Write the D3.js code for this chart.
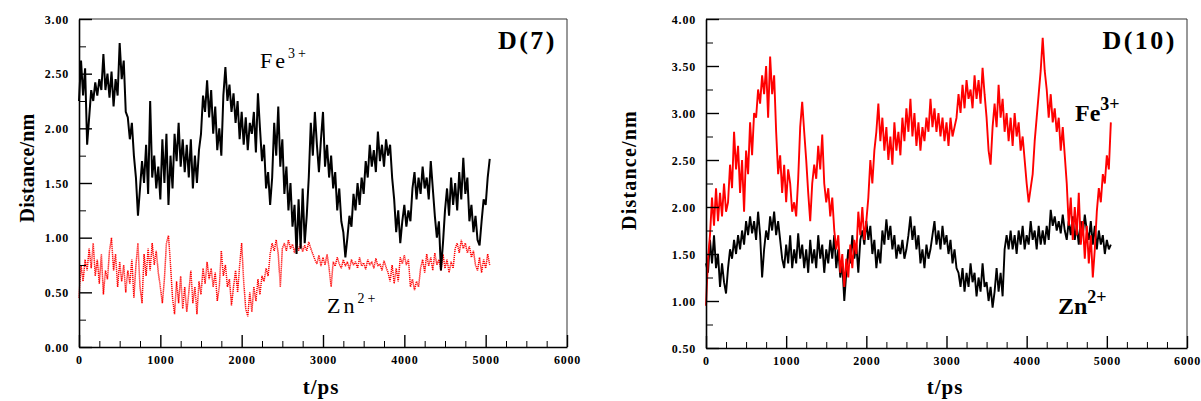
<!DOCTYPE html>
<html>
<head>
<meta charset="utf-8">
<script src="https://cdn.jsdelivr.net/npm/d3@7"></script>
<style>
  body { margin: 0; background: #fff; }
  svg text { font-family: "Liberation Serif", "DejaVu Serif", serif; font-weight: bold; fill: #000; }
  .tick text { font-size: 12px; letter-spacing: 0.8px; }
</style>
</head>
<body>
<svg id="svg" width="1201" height="401"></svg>
<script>
// sampling step of all traces (ps)
var timeStep = 25

var xTicks = [0, 1000, 2000, 3000, 4000, 5000, 6000]
var d7YTicks = [0, 0.5, 1, 1.5, 2, 2.5, 3]
var d10YTicks = [0.5, 1, 1.5, 2, 2.5, 3, 3.5, 4]

// D(7) Fe3+ distance (nm), one value every 25 ps
var d7Fe = [
  2.25, 2.62, 2.30, 2.55, 1.85, 2.10, 2.35, 2.25,
  2.42, 2.30, 2.45, 2.35, 2.68, 2.35, 2.50, 2.28,
  2.52, 2.20, 2.45, 2.30, 2.78, 2.45, 2.62, 2.15,
  2.10, 1.90, 2.05, 1.75, 1.55, 1.20, 1.45, 1.70,
  1.50, 1.85, 1.40, 2.25, 1.55, 1.75, 1.45, 1.65,
  1.35, 1.90, 1.50, 1.95, 1.30, 1.75, 1.45, 1.95,
  1.70, 2.05, 1.65, 1.90, 1.60, 1.85, 1.55, 1.90,
  1.45, 1.75, 1.50, 1.80, 1.95, 2.30, 2.15, 2.44,
  2.10, 2.35, 1.95, 2.20, 1.80, 2.00, 1.75, 2.30,
  2.56, 2.25, 2.40, 2.15, 2.32, 2.05, 2.25, 1.90,
  2.15, 1.85, 2.10, 1.80, 2.05, 1.95, 2.15, 1.78,
  2.32, 2.00, 1.70, 1.85, 1.45, 1.60, 1.30, 1.55,
  2.05, 1.75, 2.20, 1.65, 1.90, 1.40, 1.65, 1.25,
  1.50, 1.10, 1.30, 0.85, 1.35, 0.90, 1.45, 0.95,
  1.20, 1.55, 2.05, 1.75, 2.15, 1.85, 1.60, 1.90,
  2.15, 1.65, 1.85, 1.55, 1.75, 1.45, 1.60, 1.25,
  1.45, 1.15, 1.05, 0.82, 1.00, 1.20, 1.10, 1.40,
  1.25, 1.50, 1.30, 1.55, 1.40, 1.70, 1.55, 1.85,
  1.65, 1.80, 1.60, 1.97, 1.70, 1.85, 1.65, 1.90,
  1.75, 1.85, 1.55, 1.35, 1.05, 1.25, 0.95, 1.15,
  1.30, 1.10, 1.25, 1.15, 1.45, 1.60, 1.35, 1.55,
  1.40, 1.65, 1.45, 1.55, 1.35, 1.70, 1.45, 1.20,
  1.00, 1.15, 0.70, 0.95, 1.25, 1.45, 1.20, 1.55,
  1.30, 1.50, 1.25, 1.60, 1.35, 1.73, 1.40, 1.55,
  1.15, 1.30, 1.05, 1.20, 0.98, 0.93, 1.15, 1.35,
  1.30, 1.55, 1.72
]

// D(7) Zn2+ distance (nm)
var d7Zn = [
  0.45, 0.75, 0.60, 0.80, 0.70, 0.90, 0.72, 0.95,
  0.65, 0.80, 0.58, 0.85, 0.48, 0.70, 0.62, 0.88,
  1.00, 0.70, 0.85, 0.55, 0.78, 0.60, 0.75, 0.50,
  0.70, 0.58, 0.80, 0.45, 0.75, 0.95, 0.55, 0.40,
  0.85, 0.65, 0.90, 0.70, 0.95, 0.75, 0.88, 0.68,
  0.55, 0.40, 0.62, 0.95, 1.02, 0.75, 0.45, 0.30,
  0.60, 0.40, 0.65, 0.35, 0.55, 0.32, 0.50, 0.70,
  0.40, 0.55, 0.30, 0.60, 0.48, 0.72, 0.58, 0.78,
  0.62, 0.72, 0.55, 0.68, 0.42, 0.55, 0.88, 0.65,
  0.75, 0.55, 0.62, 0.38, 0.55, 0.70, 0.50, 0.75,
  0.95, 0.60, 0.35, 0.28, 0.50, 0.32, 0.55, 0.42,
  0.62, 0.48, 0.65, 0.60, 0.72, 0.65, 0.85, 0.95,
  0.88, 0.98, 0.85, 0.55, 0.90, 0.95, 0.88, 0.98,
  0.90, 0.94, 0.86, 0.96, 0.88, 0.95, 0.87, 0.93,
  0.88, 0.96, 0.90, 0.85, 0.80, 0.76, 0.84, 0.74,
  0.82, 0.75, 0.85, 0.72, 0.55, 0.78, 0.74, 0.82,
  0.76, 0.72, 0.80, 0.74, 0.78, 0.71, 0.80, 0.75,
  0.78, 0.72, 0.82, 0.74, 0.77, 0.71, 0.80, 0.75,
  0.78, 0.72, 0.81, 0.74, 0.76, 0.70, 0.79, 0.73,
  0.68, 0.60, 0.75, 0.58, 0.72, 0.60, 0.82, 0.76,
  0.84, 0.75, 0.80, 0.55, 0.62, 0.52, 0.60, 0.55,
  0.72, 0.80, 0.68, 0.85, 0.74, 0.82, 0.70, 0.86,
  0.75, 0.80, 0.70, 0.85, 0.72, 0.80, 0.68, 0.78,
  0.72, 0.90, 0.95, 0.86, 0.98, 0.90, 0.95, 0.86,
  0.92, 0.82, 0.88, 0.75, 0.70, 0.82, 0.68, 0.80,
  0.72, 0.85, 0.75
]

// D(10) Fe3+ distance (nm)
var d10Fe = [
  0.95, 1.45, 1.70, 2.10, 1.80, 2.20, 1.85, 2.15,
  1.90, 2.25, 1.95, 2.05, 2.45, 2.20, 2.80, 2.40,
  2.65, 2.15, 2.50, 1.95, 2.60, 2.35, 2.90, 2.55,
  3.00, 2.95, 3.25, 3.10, 3.40, 3.20, 3.50, 2.95,
  3.60, 3.20, 3.40, 2.80, 2.35, 2.55, 2.15, 2.45,
  2.05, 2.40, 2.25, 1.95, 2.05, 1.90, 2.30, 2.85,
  3.12, 2.80, 2.50, 2.15, 1.85, 2.25, 2.45, 2.30,
  2.65, 2.40, 2.77, 2.25, 2.05, 2.20, 1.90, 2.10,
  1.75, 1.55, 1.70, 1.30, 1.50, 1.15, 1.45, 1.25,
  1.60, 1.35, 1.65, 1.50, 1.95, 1.70, 2.00, 1.65,
  1.85, 2.10, 2.50, 2.25, 2.60, 2.80, 3.10, 2.70,
  2.95, 2.60, 2.85, 2.50, 2.75, 2.45, 2.90, 2.60,
  2.80, 2.55, 2.95, 2.70, 3.05, 2.80, 3.15, 2.75,
  3.00, 2.65, 2.90, 2.60, 2.85, 2.70, 2.95, 2.80,
  3.15, 2.85, 3.05, 2.80, 3.00, 2.75, 2.95, 2.70,
  2.90, 2.65, 2.95, 2.75, 2.85, 2.95, 3.20, 3.00,
  3.30, 3.05, 3.35, 3.15, 3.25, 3.05, 3.40, 3.15,
  3.35, 3.10, 3.48, 3.20, 2.95, 2.60, 2.45, 2.85,
  3.10, 2.85, 3.30, 2.95, 3.15, 2.80, 3.00, 2.70,
  2.95, 2.65, 3.00, 2.75, 2.90, 2.60, 2.75, 2.50,
  2.25, 2.05, 2.20, 2.35, 2.70, 2.95, 3.20, 3.45,
  3.80, 3.45, 3.25, 2.95, 3.20, 2.90, 3.05, 2.80,
  2.95, 2.60, 2.85, 2.55, 2.25, 1.80, 2.10, 1.65,
  2.00, 1.70, 2.15, 1.60, 1.85, 1.45, 1.80, 1.40,
  1.70, 1.25, 1.55, 1.95, 2.20, 2.05, 2.35, 2.25,
  2.55, 2.40, 2.90
]

// D(10) Zn2+ distance (nm)
var d10Zn = [
  1.40, 1.30, 1.65, 1.40, 1.70, 1.35, 1.50, 1.15,
  1.40, 1.20, 1.08, 1.35, 1.55, 1.45, 1.65, 1.50,
  1.70, 1.55, 1.75, 1.60, 1.85, 1.70, 1.90, 1.72,
  1.85, 1.65, 1.95, 1.70, 1.25, 1.55, 1.75, 1.65,
  1.90, 1.75, 1.95, 1.70, 1.85, 1.65, 1.45, 1.35,
  1.60, 1.40, 1.70, 1.35, 1.55, 1.40, 1.72, 1.45,
  1.60, 1.35, 1.55, 1.30, 1.65, 1.40, 1.55, 1.35,
  1.70, 1.45, 1.60, 1.30, 1.55, 1.40, 1.65, 1.45,
  1.70, 1.35, 1.55, 1.25, 1.40, 1.00, 1.30, 1.55,
  1.40, 1.70, 1.45, 1.60, 1.30, 1.65, 1.75, 1.60,
  1.85, 1.65, 1.80, 1.50, 1.65, 1.35, 1.55, 1.40,
  1.75, 1.60, 1.87, 1.65, 1.80, 1.55, 1.70, 1.45,
  1.60, 1.50, 1.65, 1.45, 1.55, 1.70, 1.90, 1.65,
  1.80, 1.55, 1.70, 1.40, 1.55, 1.35, 1.60, 1.45,
  1.55, 1.70, 1.85, 1.60, 1.75, 1.55, 1.80, 1.60,
  1.70, 1.50, 1.65, 1.40, 1.55, 1.35, 1.30, 1.15,
  1.35, 1.10, 1.30, 1.15, 1.40, 1.20, 1.30, 1.05,
  1.25, 1.10, 1.40, 1.15, 1.20, 1.00, 1.15, 0.93,
  1.10, 1.35, 1.10, 1.30, 1.05, 1.55, 1.70, 1.55,
  1.75, 1.55, 1.70, 1.50, 1.75, 1.60, 1.80, 1.55,
  1.70, 1.60, 1.85, 1.65, 1.75, 1.55, 1.80, 1.60,
  1.75, 1.60, 1.80, 1.65, 1.97, 1.80, 1.90, 1.75,
  1.85, 1.72, 1.92, 1.75, 1.65, 1.85, 1.70, 1.90,
  1.65, 1.80, 1.60, 1.85, 1.70, 1.92, 1.75, 1.65,
  1.85, 1.60, 1.80, 1.55, 1.75, 1.60, 1.70, 1.50,
  1.65, 1.55, 1.60
]

var svg = d3.select("#svg")

function toPoints(values) {
    return values.map(function (v, i) {
        return { t: i * timeStep, v: v }
    })
}

function drawPanel(p) {
    var g = svg.append("g")

    var x = d3.scaleLinear().domain([0, 6000]).range([p.left, p.right])
    var y = d3.scaleLinear().domain(p.yDomain).range([p.bottom, p.top])

    // frame (top and right edges)
    g.append("path")
        .attr("d", "M" + p.left + "," + p.top + "H" + p.right + "V" + p.bottom)
        .attr("fill", "none")
        .attr("stroke", "#333")
        .attr("stroke-width", 1)

    var line = d3.line()
        .x(function (d) { return x(d.t) })
        .y(function (d) { return y(d.v) })

    p.series.forEach(function (s) {
        g.append("path")
            .datum(toPoints(s.values))
            .attr("d", line)
            .attr("fill", "none")
            .attr("stroke", s.color)
            .attr("stroke-width", s.width)
            .attr("stroke-linejoin", "bevel")
            .attr("stroke-dasharray", s.dash || null)
    })

    // minor ticks
    var xMinor = d3.range(250, 6000, 250).filter(function (v) { return v % 1000 !== 0 })
    var yMinor = p.yTicks.slice(0, -1).map(function (v) { return v + 0.25 })

    g.append("g")
        .attr("transform", "translate(0," + p.bottom + ")")
        .call(d3.axisBottom(x).tickValues(xMinor).tickSize(-6).tickFormat(""))
        .call(function (a) { a.select(".domain").remove() })
    g.append("g")
        .attr("transform", "translate(" + p.left + ",0)")
        .call(d3.axisLeft(y).tickValues(yMinor).tickSize(-7).tickFormat(""))
        .call(function (a) { a.select(".domain").remove() })

    // major ticks + labels
    g.append("g")
        .attr("class", "x axis")
        .attr("transform", "translate(0," + p.bottom + ")")
        .call(d3.axisBottom(x).tickValues(xTicks).tickSizeInner(-12).tickSizeOuter(0)
            .tickPadding(8).tickFormat(d3.format("d")))
    var ya = g.append("g")
        .attr("class", "y axis")
        .attr("transform", "translate(" + p.left + ",0)")
        .call(d3.axisLeft(y).tickValues(p.yTicks).tickSizeInner(-13).tickSizeOuter(0)
            .tickPadding(10).tickFormat(d3.format(".2f")))
    g.selectAll(".axis .domain").attr("stroke-width", 1.6)
    g.selectAll(".axis line").attr("stroke-width", 1.4)
    ya.selectAll("text").attr("dy", "0.36em")

    // axis titles
    g.append("text")
        .attr("transform", "translate(" + p.yTitleX + "," + p.yTitleY + ") rotate(-90)")
        .attr("text-anchor", "middle")
        .style("font-size", p.yTitleSize + "px")
        .style("letter-spacing", p.yTitleSpacing + "px")
        .text("Distance/nm")
    g.append("text")
        .attr("x", p.xTitleX)
        .attr("y", 394)
        .attr("text-anchor", "middle")
        .style("font-size", "21px")
        .style("letter-spacing", "1px")
        .text("t/ps")

    // panel tag
    g.append("text")
        .attr("x", p.right - 10)
        .attr("y", 49)
        .attr("text-anchor", "end")
        .style("font-size", "26px")
        .style("letter-spacing", "2.5px")
        .text(p.tag)

    // ion labels
    p.ions.forEach(function (l) {
        var t = g.append("text")
            .attr("x", l.x)
            .attr("y", l.y)
            .style("font-size", l.size + "px")
            .style("font-weight", l.weight)
            .style("letter-spacing", l.spacing + "px")
        t.append("tspan").text(l.base)
        t.append("tspan")
            .attr("dy", -l.size * 0.45)
            .style("font-size", l.supSize + "px")
            .text(l.sup)
    })
}

drawPanel({
    left: 79, right: 567, top: 19, bottom: 347,
    yDomain: [0, 3], yTicks: d7YTicks,
    yTitleX: 34, yTitleY: 168, yTitleSize: 20, yTitleSpacing: 0.2, xTitleX: 321,
    tag: "D(7)",
    series: [
        { values: d7Zn, color: "#ff0000", width: 1.5, dash: "1.2,0.8" },
        { values: d7Fe, color: "#000000", width: 2 }
    ],
    ions: [
        { x: 260, y: 68, base: "Fe", sup: "3+", size: 22, supSize: 14, weight: "normal", spacing: 3 },
        { x: 327, y: 313, base: "Zn", sup: "2+", size: 22, supSize: 14, weight: "normal", spacing: 3 }
    ]
})

drawPanel({
    left: 706, right: 1187, top: 19, bottom: 348,
    yDomain: [0.5, 4], yTicks: d10YTicks,
    yTitleX: 636, yTitleY: 170, yTitleSize: 20, yTitleSpacing: 1.2, xTitleX: 945,
    tag: "D(10)",
    series: [
        { values: d10Zn, color: "#000000", width: 1.9 },
        { values: d10Fe, color: "#ff0000", width: 1.9 }
    ],
    ions: [
        { x: 1075, y: 121, base: "Fe", sup: "3+", size: 24, supSize: 18, weight: "bold", spacing: 0 },
        { x: 1058, y: 314, base: "Zn", sup: "2+", size: 24, supSize: 18, weight: "bold", spacing: 0 }
    ]
})
</script>
</body>
</html>
